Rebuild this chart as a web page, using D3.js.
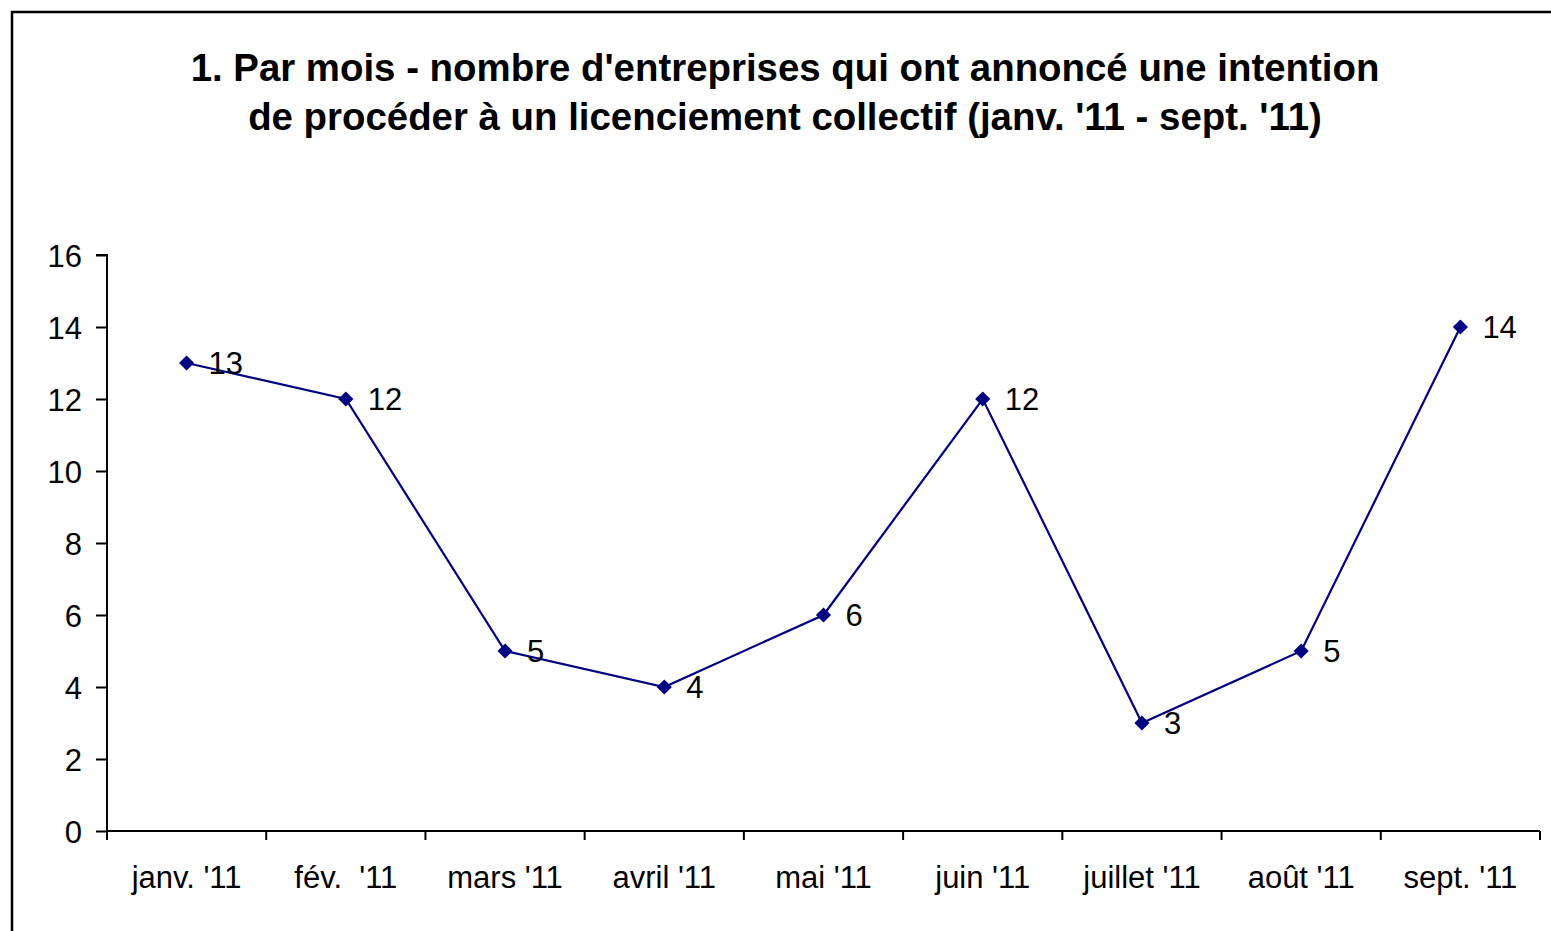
<!DOCTYPE html>
<html><head><meta charset="utf-8">
<script src="https://cdn.jsdelivr.net/npm/d3@7"></script>
<style>
html,body{margin:0;padding:0;background:#fff;}
svg{display:block;}
text{font-family:"Liberation Sans",Arial,sans-serif;}
</style></head>
<body>
<svg id="chart" width="1551" height="931"></svg>
<script>
const categories = ["janv. '11", "fév.  '11", "mars '11", "avril '11", "mai '11", "juin '11", "juillet '11", "août '11", "sept. '11"];
const values = [13, 12, 5, 4, 6, 12, 3, 5, 14];
const yTicks = [0, 2, 4, 6, 8, 10, 12, 14, 16];
const titleLines = ["1. Par mois - nombre d'entreprises qui ont annoncé une intention", "de procéder à un licenciement collectif (janv. '11 - sept. '11)"];

const svg = d3.select("#chart");
const W = 1551, H = 931;
const m = {left: 107, right: 1540, top: 255, bottom: 831};

svg.append("rect").attr("x", 0).attr("y", 0).attr("width", W).attr("height", H).attr("fill", "#fff");
// outer frame (right and bottom edges fall outside the picture)
svg.append("path").attr("d", `M12,${H+5}V12H${W+5}`).attr("fill", "none").attr("stroke", "#000").attr("stroke-width", 2.5);

const g = svg.append("g");
g.selectAll("text.title").data(titleLines).join("text")
  .attr("class", "title")
  .attr("x", 785).attr("y", (d, i) => 81 + i * 49)
  .attr("text-anchor", "middle")
  .attr("font-weight", "bold").attr("font-size", 38.4).attr("fill", "#000")
  .text(d => d);

const x = d3.scaleBand().domain(categories).range([m.left, m.right]).padding(0);
const y = d3.scaleLinear().domain([0, 16]).range([m.bottom, m.top]);

// y axis
const yAx = g.append("g").attr("transform", `translate(${m.left},0)`)
  .call(d3.axisLeft(y).tickValues(yTicks).tickSize(11).tickPadding(14).tickFormat(d3.format("d")));
yAx.select(".domain").attr("stroke", "#000").attr("stroke-width", 2).attr("d", `M-11,${m.top}H0V${m.bottom}`);
yAx.selectAll(".tick line").attr("stroke", "#000").attr("stroke-width", 2);
yAx.selectAll(".tick text").attr("font-size", 31).attr("fill", "#000").attr("font-family", "Liberation Sans, Arial, sans-serif").attr("dy", "0.36em");

// x axis
const xAx = g.append("g").attr("transform", `translate(0,${m.bottom})`)
  .call(d3.axisBottom(x).tickSize(0).tickPadding(0));
xAx.select(".domain").attr("stroke", "#000").attr("stroke-width", 2).attr("d", `M${m.left},0H${m.right}`);
xAx.selectAll(".tick line").remove();
xAx.selectAll(".tick text").attr("font-size", 31).attr("fill", "#000").attr("font-family", "Liberation Sans, Arial, sans-serif")
  .attr("y", 57).attr("dy", 0).style("white-space", "pre");
// category boundary ticks
const bounds = categories.map(c => x(c)).concat([x.range()[1]]);
xAx.selectAll("line.bt").data(bounds).join("line").attr("class", "bt")
  .attr("x1", d => d).attr("x2", d => d).attr("y1", 0).attr("y2", 9)
  .attr("stroke", "#000").attr("stroke-width", 2);

const cx = (d, i) => x(categories[i]) + x.bandwidth() / 2;
const line = d3.line().x((d, i) => cx(d, i)).y(d => y(d));
g.append("path").datum(values).attr("d", line).attr("fill", "none").attr("stroke", "#000080").attr("stroke-width", 2.2);

const diamond = d3.symbol().type(d3.symbolSquare).size(115);
g.selectAll("path.mk").data(values).join("path").attr("class", "mk")
  .attr("d", diamond)
  .attr("transform", (d, i) => `translate(${cx(d, i)},${y(d)}) rotate(45)`)
  .attr("fill", "#000080");

g.selectAll("text.lbl").data(values).join("text").attr("class", "lbl")
  .attr("x", (d, i) => cx(d, i) + 22).attr("y", d => y(d)).attr("dy", "0.36em")
  .attr("font-size", 31).attr("fill", "#000").text(d => d);
</script>
</body></html>
